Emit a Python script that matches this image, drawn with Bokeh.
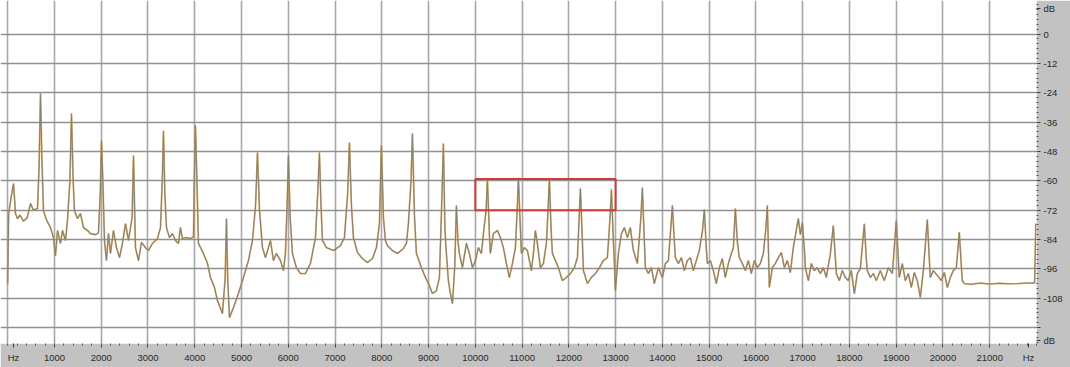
from bokeh.plotting import figure
from bokeh.models import Range1d, LinearAxis, FixedTicker, ColumnDataSource, Grid
from bokeh.embed import file_html
from bokeh.resources import INLINE

# ---- data (frequency in Hz, level in dB) ----
freq_hz = [
    0, 20, 80, 124, 167, 210, 260, 338, 420, 487,
    552, 637, 670, 701, 730, 765, 829, 915, 979, 1022,
    1065, 1129, 1172, 1236, 1278, 1330, 1364, 1400, 1428, 1492,
    1556, 1620, 1706, 1770, 1877, 1941, 1980, 2005, 2035, 2070,
    2112, 2155, 2198, 2262, 2326, 2390, 2454, 2519, 2583, 2660,
    2690, 2715, 2732, 2796, 2861, 2946, 3010, 3096, 3203, 3267,
    3305, 3331, 3360, 3395, 3459, 3523, 3588, 3652, 3694, 3737,
    3823, 3908, 3972, 3990, 4015, 4040, 4079, 4186, 4272, 4336,
    4421, 4485, 4592, 4650, 4678, 4705, 4742, 4828, 4934, 5041,
    5148, 5234, 5300, 5341, 5385, 5448, 5512, 5576, 5619, 5683,
    5747, 5832, 5897, 5939, 5975, 6003, 6040, 6089, 6174, 6260,
    6367, 6474, 6581, 6630, 6666, 6700, 6730, 6816, 6966, 7115,
    7201, 7270, 7308, 7350, 7393, 7479, 7586, 7692, 7799, 7885,
    7949, 7992, 8035, 8077, 8120, 8227, 8334, 8462, 8526, 8569,
    8625, 8655, 8700, 8740, 8847, 8933, 9018, 9082, 9168, 9232,
    9280, 9317, 9350, 9381, 9424, 9467, 9510, 9560, 9595, 9630,
    9659, 9724, 9809, 9873, 9938, 10002, 10066, 10130, 10173, 10230,
    10259, 10301, 10322, 10386, 10472, 10536, 10600, 10664, 10728, 10793,
    10857, 10895, 10921, 10964, 10985, 11049, 11113, 11199, 11242, 11284,
    11327, 11391, 11455, 11519, 11555, 11584, 11620, 11648, 11712, 11776,
    11862, 11947, 12033, 12118, 12183, 12220, 12247, 12290, 12311, 12397,
    12482, 12568, 12653, 12739, 12824, 12880, 12910, 12953, 12974, 12995,
    13059, 13123, 13187, 13251, 13315, 13380, 13465, 13540, 13572, 13615,
    13636, 13700, 13764, 13828, 13914, 14000, 14064, 14128, 14171, 14214,
    14256, 14278, 14342, 14406, 14470, 14534, 14598, 14662, 14726, 14790,
    14860, 14897, 14940, 14962, 15026, 15090, 15154, 15218, 15282, 15346,
    15411, 15475, 15518, 15560, 15603, 15646, 15710, 15774, 15838, 15902,
    15967, 16031, 16095, 16159, 16210, 16245, 16287, 16351, 16415, 16480,
    16544, 16608, 16672, 16736, 16800, 16907, 16950, 16993, 17036, 17057,
    17121, 17185, 17249, 17313, 17378, 17442, 17506, 17591, 17655, 17700,
    17720, 17784, 17848, 17912, 17976, 18040, 18105, 18169, 18233, 18318,
    18361, 18383, 18447, 18511, 18575, 18660, 18746, 18831, 18917, 19002,
    19045, 19066, 19131, 19195, 19259, 19323, 19387, 19451, 19516, 19580,
    19665, 19708, 19730, 19794, 19879, 19965, 20029, 20093, 20157, 20222,
    20286, 20350, 20393, 20414, 20457, 20600, 20800, 21000, 21200, 21400,
    21600, 21800, 21960, 21985,
]
level_db = [
    -102, -73.4, -66, -61.1, -73.4, -75.5, -74, -76.5, -75, -69.3,
    -72, -71.3, -55, -24.3, -50, -72.2, -76, -79.1, -83.2, -90.6,
    -80.3, -85.6, -80.3, -84.4, -76.2, -60, -32.5, -60, -72.2, -75.4,
    -73.4, -79.1, -80.3, -81.6, -82, -81.2, -65, -43.5, -60, -84.4,
    -92.6, -81.6, -89.7, -80.3, -87.3, -91.4, -85.6, -77.5, -84.4, -75,
    -49.7, -72, -87.3, -92.6, -85.2, -87.3, -88.5, -85.6, -83.6, -79.1,
    -60, -39.5, -65, -79.1, -83.2, -81.6, -84.4, -85.6, -79.1, -83.6,
    -83.2, -83.6, -83, -60, -37.4, -55, -85.6, -89.7, -93.8, -99.5,
    -103.6, -108.9, -114.3, -100, -75.4, -100, -115.9, -111.8, -106.1, -99.5,
    -92.6, -84.4, -70, -48.4, -72, -87.3, -91.4, -87.3, -84.4, -92.6,
    -89.7, -92.6, -96.7, -89.7, -70, -49.7, -75, -89.7, -95.5, -97.9,
    -97.9, -93.8, -83.2, -65, -48.4, -70, -84.4, -87.3, -88.5, -86.5,
    -83.2, -65, -44.4, -70, -83.2, -89.3, -91.8, -93.4, -91.8, -87.3,
    -77.5, -45.6, -75, -84.4, -86.5, -88.5, -89.7, -87.7, -85.6, -77.5,
    -60, -40.7, -75, -89.7, -95.5, -99.5, -102.8, -106.1, -104.9, -99.5,
    -70, -44.8, -80, -89.7, -100.8, -106.1, -110.2, -95, -70.1, -85,
    -89.7, -95.5, -85.6, -89.7, -95.5, -92.6, -87.3, -89.7, -81.6, -72,
    -59.5, -82, -89.7, -81.6, -80.3, -83.2, -87.3, -93.8, -99.5, -93.8,
    -87.3, -72, -58.8, -80, -89.7, -87.3, -88.5, -96.7, -89.7, -80.3,
    -85.6, -95.5, -93.8, -85.6, -72, -59, -80, -89.7, -92.6, -95.5,
    -100.8, -99.5, -97.9, -95.5, -91.4, -75, -63.2, -85, -96.7, -102,
    -99.5, -97.9, -95.5, -92.6, -91.4, -75, -63.6, -85, -93.8, -104.9,
    -89.7, -81.6, -79.1, -83.2, -79.1, -88.5, -93.8, -75, -62.8, -85,
    -95.5, -97.9, -95.5, -102, -95.5, -99.5, -93.8, -92.6, -81.6, -70.1,
    -85, -91.4, -93.8, -91.4, -96.7, -92.6, -91.4, -96.7, -92.6, -88.5,
    -80, -71.7, -88, -93.8, -92.6, -96.7, -102, -95.5, -91.8, -99.5,
    -93.8, -89.7, -87.3, -71.3, -85, -91.4, -93.8, -96.7, -92.6, -97.9,
    -92.6, -95.5, -93.8, -89.7, -80, -70.1, -103.6, -95.5, -93.8, -91.4,
    -89.3, -95.5, -92.6, -97.5, -87.3, -75.4, -82, -77.1, -88, -95.5,
    -100.8, -93.8, -96.7, -95.5, -97.9, -95.5, -99.5, -90, -78.3, -92,
    -97.9, -100.8, -96.7, -99.5, -100.8, -96.7, -106.1, -97.9, -95.9, -77.6,
    -92, -96.7, -99.5, -97.9, -100.8, -96.7, -100.8, -95.5, -97.9, -76.2,
    -92, -99.5, -93.8, -100.8, -97.9, -103.6, -97.5, -100.8, -107.7, -96.7,
    -75.8, -92, -99.5, -96.7, -98.7, -100.8, -97.5, -103.6, -99.5, -96.7,
    -95.5, -81, -95, -100.8, -102, -102.3, -101.8, -102.2, -101.9, -102.1,
    -102, -101.8, -101.8, -77.5,
]

# highlighted box (Hz / dB)
box_left_hz = [10000]
box_right_hz = [13000]
box_top_db = [-59.3]
box_bottom_db = [-72]

# axis ticks and labels
freq_ticks = list(range(1000, 22000, 1000))
freq_minor = list(range(0, 22001, 200))
freq_unit_ticks = [124, 21830]          # positions of the "Hz" unit captions
db_ticks = list(range(-120, 1, 12))
db_minor = list(range(-126, 13, 2))
db_unit_ticks = [-125.3, 10.4]          # positions of the "dB" unit captions

freq_labels = {t: str(t) for t in freq_ticks}
for t in freq_unit_ticks:
    freq_labels[t] = "Hz"
db_labels = {t: str(t) for t in db_ticks}
db_labels[-120] = ""
for t in db_unit_ticks:
    db_labels[t] = "dB"

W, H = 1070, 367
GRAY = "#c2c2c2"

p = figure(width=W, height=H, output_backend="svg", toolbar_location=None,
           x_range=Range1d(-154, 22000), y_range=Range1d(-126.5, 13.7),
           x_axis_location=None, y_axis_location=None,
           min_border_left=0, min_border_top=0, min_border_right=34, min_border_bottom=24,
           background_fill_color="white", border_fill_color=GRAY, outline_line_color=None)

xaxis = LinearAxis(ticker=FixedTicker(ticks=freq_ticks + freq_unit_ticks, minor_ticks=freq_minor),
                   major_label_overrides=freq_labels)
yaxis = LinearAxis(ticker=FixedTicker(ticks=db_ticks + db_unit_ticks, minor_ticks=db_minor),
                   major_label_overrides=db_labels)
for ax in (xaxis, yaxis):
    ax.axis_line_color = None
    ax.major_tick_line_color = "#3a3a3a"
    ax.minor_tick_line_color = "#555555"
    ax.major_tick_in = 0
    ax.minor_tick_in = 0
    ax.major_tick_out = 4
    ax.minor_tick_out = 2
    ax.major_label_text_font = "Liberation Sans"
    ax.major_label_text_font_size = "9.5px"
    ax.major_label_text_color = "#2a2a2a"
xaxis.major_label_standoff = 4
yaxis.major_label_standoff = 3
p.add_layout(xaxis, "below")
p.add_layout(yaxis, "right")

# grid
p.xgrid.visible = False
p.ygrid.visible = False
p.add_layout(Grid(dimension=0, ticker=FixedTicker(ticks=[0] + freq_ticks),
                  grid_line_color="#a8a8a8", grid_line_width=1.6))
p.add_layout(Grid(dimension=1, ticker=FixedTicker(ticks=db_ticks),
                  grid_line_color="#909090", grid_line_width=1.5))

src = ColumnDataSource(dict(f=freq_hz, db=level_db))
p.line("f", "db", source=src, line_color="#d9953a", line_width=1.8, line_alpha=0.7)
p.line("f", "db", source=src, line_color="#85826f", line_width=1.1)

p.quad(left=box_left_hz, right=box_right_hz, top=box_top_db, bottom=box_bottom_db,
       fill_alpha=0, line_color="#d23a3a", line_width=2)

open("out.html", "w").write(file_html(p, INLINE))
